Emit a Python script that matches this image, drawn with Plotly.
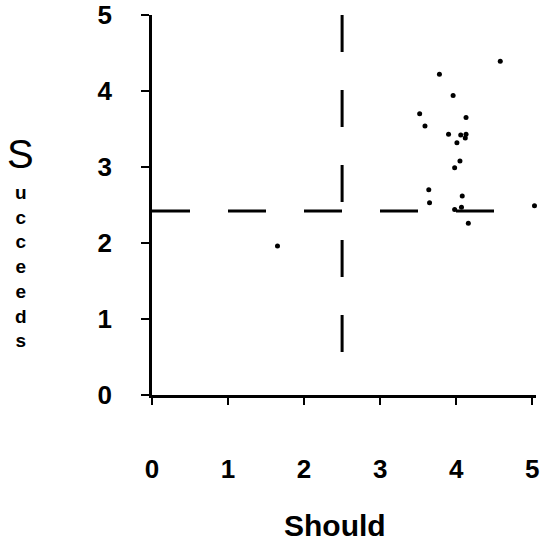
import plotly.graph_objects as go

# Data
should = [4.58, 3.78, 3.96, 3.52, 4.13, 3.59, 3.90, 4.06, 4.13, 4.12, 4.01,
          4.05, 3.98, 3.64, 3.65, 4.08, 3.98, 4.07, 4.16, 5.03, 1.65]
succeeds = [4.39, 4.22, 3.94, 3.70, 3.65, 3.54, 3.43, 3.42, 3.43, 3.38, 3.32,
            3.08, 2.99, 2.70, 2.53, 2.62, 2.44, 2.47, 2.26, 2.49, 1.96]

tick_vals = [0, 1, 2, 3, 4, 5]
tick_text = ["0", "1", "2", "3", "4", "5"]

x_title = "Should"
y_title = "Succeeds"

# Reference (dashed) lines
should_cut = 2.5          # vertical dashed line
should_cut_span = [0.55, 5.0]
succeeds_cut = 2.42       # horizontal dashed line
succeeds_cut_span = [0.0, 4.54]

FONT = "Liberation Sans"

W, H = 547, 546
L, T = 152, 15
PLOT_W, PLOT_H = 383.8, 380


def px_to_paper(px, py):
    return (px - L) / PLOT_W, 1 - (py - T) / PLOT_H


fig = go.Figure()

fig.add_trace(go.Scatter(
    x=[should_cut, should_cut], y=[should_cut_span[1], should_cut_span[0]],
    mode="lines", line=dict(color="black", width=3, dash="37px,38px"),
    hoverinfo="skip", showlegend=False, cliponaxis=False))
fig.add_trace(go.Scatter(
    x=succeeds_cut_span, y=[succeeds_cut, succeeds_cut],
    mode="lines", line=dict(color="black", width=3, dash="38px,38px"),
    hoverinfo="skip", showlegend=False, cliponaxis=False))

fig.add_trace(go.Scatter(
    x=should, y=succeeds, mode="markers",
    marker=dict(color="black", size=5),
    showlegend=False, cliponaxis=False))

fig.update_layout(
    width=W, height=H,
    margin=dict(l=L, r=W - L - PLOT_W, t=T, b=H - T - PLOT_H, autoexpand=False),
    paper_bgcolor="white", plot_bgcolor="white",
    font=dict(family=FONT, color="black"),
    xaxis=dict(range=[0, 5.05], tickvals=tick_vals, ticktext=tick_text,
               automargin=False, ticklabeloverflow="allow",
               showgrid=False, zeroline=False, showline=True,
               linecolor="black", linewidth=2.5,
               ticks="outside", ticklen=7, tickwidth=2, tickcolor="black",
               ticklabelstandoff=42,
               tickfont=dict(size=26, family=FONT, weight="bold")),
    yaxis=dict(range=[0, 5], tickvals=tick_vals, ticktext=tick_text,
               automargin=False, ticklabeloverflow="allow",
               showgrid=False, zeroline=False, showline=True,
               linecolor="black", linewidth=2.5,
               ticks="outside", ticklen=8, tickwidth=2, tickcolor="black",
               ticklabelstandoff=24,
               tickfont=dict(size=26, family=FONT, weight="bold")),
)

# x-axis title
ax, ay = px_to_paper(335, 525)
fig.add_annotation(text=x_title, xref="paper", yref="paper", x=ax, y=ay,
                   xanchor="center", yanchor="middle", showarrow=False,
                   font=dict(size=30, family=FONT, weight="bold", color="black"))

# y-axis title written as stacked letters: big first letter, then the rest
sx, sy = px_to_paper(21, 154)
fig.add_annotation(text=y_title[0], xref="paper", yref="paper", x=sx, y=sy,
                   xanchor="center", yanchor="middle", showarrow=False,
                   font=dict(size=40, family=FONT, color="black"))
rx, ry = px_to_paper(21, 266)
fig.add_annotation(text="<br>".join(y_title[1:]), xref="paper", yref="paper",
                   x=rx, y=ry, xanchor="center", yanchor="middle",
                   showarrow=False, align="center",
                   font=dict(size=19, family=FONT, weight="bold", color="black"))

fig.write_html("out.html",
               config={"displayModeBar": False},
               post_script="document.body.style.margin='0';")
